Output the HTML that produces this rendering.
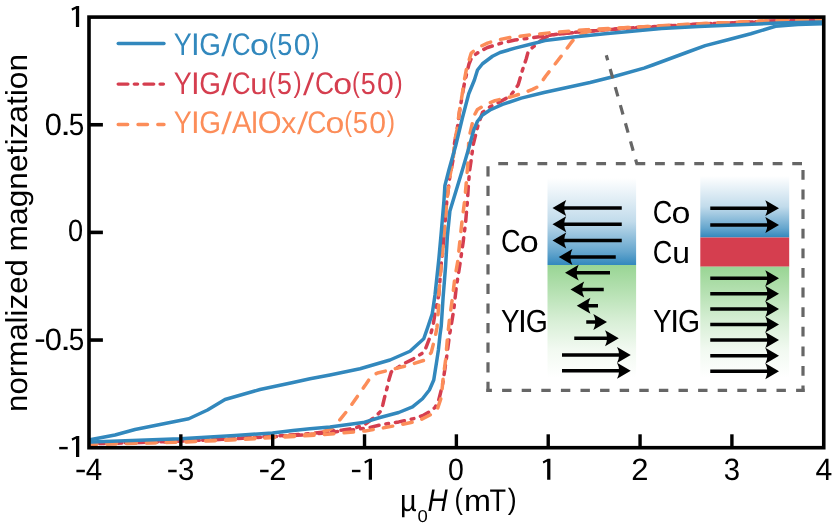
<!DOCTYPE html>
<html><head><meta charset="utf-8"><title>Hysteresis</title>
<style>html,body{margin:0;padding:0;background:#fff;}body{width:832px;height:530px;overflow:hidden;font-family:"Liberation Sans",sans-serif;}svg{display:block;will-change:transform;}</style></head>
<body>
<svg width="832" height="530" viewBox="0 0 832 530">
<defs>
<linearGradient id="gb" x1="0" y1="0" x2="0" y2="1"><stop offset="0" stop-color="#3288bd" stop-opacity="0"/><stop offset="0.5" stop-color="#3288bd" stop-opacity="0.3"/><stop offset="0.85" stop-color="#3288bd" stop-opacity="0.75"/><stop offset="1" stop-color="#3288bd" stop-opacity="1"/></linearGradient>
<linearGradient id="gg" x1="0" y1="0" x2="0" y2="1"><stop offset="0" stop-color="#99d594" stop-opacity="1"/><stop offset="0.25" stop-color="#99d594" stop-opacity="0.70"/><stop offset="0.5" stop-color="#99d594" stop-opacity="0.38"/><stop offset="0.75" stop-color="#99d594" stop-opacity="0.13"/><stop offset="1" stop-color="#99d594" stop-opacity="0"/></linearGradient>
<path id="ah" d="M0,0 L-13.7,-7.9 Q-9.6,0 -13.7,7.9 Z"/>
</defs>
<rect width="832" height="530" fill="#fff"/>
<rect x="547.5" y="178" width="88.6" height="87" fill="url(#gb)"/>
<rect x="547.5" y="265" width="88.6" height="112.5" fill="url(#gg)"/>
<rect x="700.3" y="176" width="88.9" height="61.5" fill="url(#gb)"/>
<rect x="700.3" y="237.5" width="88.9" height="29.2" fill="#d53e4f"/>
<rect x="700.3" y="266.7" width="88.9" height="111" fill="url(#gg)"/>
<line x1="621.75" y1="208" x2="561.5" y2="208" stroke="#000" stroke-width="3.5"/><use href="#ah" transform="translate(552.5,208) scale(-1,1)"/>
<line x1="621.75" y1="224.25" x2="561.5" y2="224.25" stroke="#000" stroke-width="3.5"/><use href="#ah" transform="translate(552.5,224.25) scale(-1,1)"/>
<line x1="621.75" y1="240.5" x2="561.5" y2="240.5" stroke="#000" stroke-width="3.5"/><use href="#ah" transform="translate(552.5,240.5) scale(-1,1)"/>
<line x1="615.75" y1="257" x2="567.75" y2="257" stroke="#000" stroke-width="3.5"/><use href="#ah" transform="translate(558.75,257) scale(-1,1)"/>
<line x1="610" y1="272.7" x2="574" y2="272.7" stroke="#000" stroke-width="3.5"/><use href="#ah" transform="translate(565,272.7) scale(-1,1)"/>
<line x1="603.75" y1="289.5" x2="579.5" y2="289.5" stroke="#000" stroke-width="3.5"/><use href="#ah" transform="translate(570.5,289.5) scale(-1,1)"/>
<line x1="598" y1="305.75" x2="585.75" y2="305.75" stroke="#000" stroke-width="3.5"/><use href="#ah" transform="translate(576.75,305.75) scale(-1,1)"/>
<line x1="586.25" y1="322" x2="598" y2="322" stroke="#000" stroke-width="3.5"/><use href="#ah" transform="translate(607,322)"/>
<line x1="574.25" y1="338.25" x2="609.75" y2="338.25" stroke="#000" stroke-width="3.5"/><use href="#ah" transform="translate(618.75,338.25)"/>
<line x1="562" y1="355" x2="621.75" y2="355" stroke="#000" stroke-width="3.5"/><use href="#ah" transform="translate(630.75,355)"/>
<line x1="562" y1="370.75" x2="621.75" y2="370.75" stroke="#000" stroke-width="3.5"/><use href="#ah" transform="translate(630.75,370.75)"/>
<line x1="710.25" y1="208.2" x2="770" y2="208.2" stroke="#000" stroke-width="3.5"/><use href="#ah" transform="translate(779,208.2)"/>
<line x1="710.25" y1="225" x2="770" y2="225" stroke="#000" stroke-width="3.5"/><use href="#ah" transform="translate(779,225)"/>
<line x1="710.25" y1="278.25" x2="770" y2="278.25" stroke="#000" stroke-width="3.5"/><use href="#ah" transform="translate(779,278.25)"/>
<line x1="710.25" y1="293.75" x2="770" y2="293.75" stroke="#000" stroke-width="3.5"/><use href="#ah" transform="translate(779,293.75)"/>
<line x1="710.25" y1="309" x2="770" y2="309" stroke="#000" stroke-width="3.5"/><use href="#ah" transform="translate(779,309)"/>
<line x1="710.25" y1="324.5" x2="770" y2="324.5" stroke="#000" stroke-width="3.5"/><use href="#ah" transform="translate(779,324.5)"/>
<line x1="710.25" y1="340" x2="770" y2="340" stroke="#000" stroke-width="3.5"/><use href="#ah" transform="translate(779,340)"/>
<line x1="710.25" y1="355.75" x2="770" y2="355.75" stroke="#000" stroke-width="3.5"/><use href="#ah" transform="translate(779,355.75)"/>
<line x1="710.25" y1="371.25" x2="770" y2="371.25" stroke="#000" stroke-width="3.5"/><use href="#ah" transform="translate(779,371.25)"/>
<g stroke="#666666" stroke-width="3.2" fill="none" stroke-dasharray="9.8 9.8">
<line x1="498.25" y1="163.6" x2="802" y2="163.6"/>
<line x1="803" y1="170" x2="803" y2="392"/>
<line x1="804.6" y1="390.4" x2="486.4" y2="390.4" stroke-dasharray="9.4 10.2" stroke-dashoffset="0.9"/>
<line x1="488" y1="392" x2="488" y2="166" stroke-dasharray="10.2 9.4"/>
</g>
<text x="500.88" y="251.50" font-family="Liberation Sans, sans-serif" font-size="31" fill="#000" text-rendering="geometricPrecision" textLength="19.57" lengthAdjust="spacingAndGlyphs"><tspan font-size="31.9">C</tspan></text>
<text x="519.89" y="251.50" font-family="Liberation Sans, sans-serif" font-size="31" fill="#000" text-rendering="geometricPrecision" textLength="18.99" lengthAdjust="spacingAndGlyphs"><tspan font-size="30.3">o</tspan></text>
<text x="652.86" y="223.00" font-family="Liberation Sans, sans-serif" font-size="31" fill="#000" text-rendering="geometricPrecision" textLength="19.52" lengthAdjust="spacingAndGlyphs"><tspan font-size="31.9">C</tspan></text>
<text x="671.50" y="223.00" font-family="Liberation Sans, sans-serif" font-size="31" fill="#000" text-rendering="geometricPrecision" textLength="18.94" lengthAdjust="spacingAndGlyphs"><tspan font-size="30.3">o</tspan></text>
<text x="652.86" y="262.70" font-family="Liberation Sans, sans-serif" font-size="31" fill="#000" text-rendering="geometricPrecision" textLength="19.52" lengthAdjust="spacingAndGlyphs"><tspan font-size="31.9">C</tspan></text>
<text x="672.22" y="262.70" font-family="Liberation Sans, sans-serif" font-size="31" fill="#000" text-rendering="geometricPrecision" textLength="17.74" lengthAdjust="spacingAndGlyphs"><tspan font-size="30.3">u</tspan></text>
<text x="500.89" y="331.90" font-family="Liberation Sans, sans-serif" font-size="31" fill="#000" text-rendering="geometricPrecision" textLength="18.56" lengthAdjust="spacingAndGlyphs"><tspan font-size="31.9">Y</tspan></text>
<text x="518.12" y="331.90" font-family="Liberation Sans, sans-serif" font-size="31" fill="#000" text-rendering="geometricPrecision"><tspan font-size="31.9">I</tspan></text>
<text x="525.82" y="331.90" font-family="Liberation Sans, sans-serif" font-size="31" fill="#000" text-rendering="geometricPrecision" textLength="22.09" lengthAdjust="spacingAndGlyphs"><tspan font-size="31.9">G</tspan></text>
<text x="652.93" y="331.90" font-family="Liberation Sans, sans-serif" font-size="31" fill="#000" text-rendering="geometricPrecision" textLength="18.56" lengthAdjust="spacingAndGlyphs"><tspan font-size="31.9">Y</tspan></text>
<text x="670.24" y="331.90" font-family="Liberation Sans, sans-serif" font-size="31" fill="#000" text-rendering="geometricPrecision"><tspan font-size="31.9">I</tspan></text>
<text x="677.95" y="331.90" font-family="Liberation Sans, sans-serif" font-size="31" fill="#000" text-rendering="geometricPrecision" textLength="22.06" lengthAdjust="spacingAndGlyphs"><tspan font-size="31.9">G</tspan></text>
<clipPath id="cp"><rect x="89" y="17" width="734.75" height="430.7"/></clipPath><g clip-path="url(#cp)">
<polyline points="826.00,19.80 822.00,19.90 778.00,20.80 728.00,23.00 705.00,23.80 667.75,25.80 624.00,28.30 611.00,29.40 580.00,31.90 555.00,34.40 530.00,38.10 515.00,40.00 500.00,43.50 487.50,47.50 480.00,51.25 471.90,56.90 469.00,64.00 466.90,72.50 464.60,82.50 462.70,92.50 459.60,111.25 457.10,130.00 454.60,142.50 453.25,158.75 449.90,176.20 446.80,201.10 444.40,231.25 442.50,253.75 441.25,263.75 438.75,295.00 435.00,313.75 433.10,325.00 430.00,337.00 425.00,350.00 422.50,353.10 412.50,359.40 405.00,363.10 398.75,366.90 391.25,371.90 389.00,379.40 387.50,386.25 384.40,398.10 382.75,405.00 380.60,411.25 376.25,416.00 372.50,418.75 365.00,424.40 355.00,428.10 342.50,430.00 330.00,431.25 310.00,433.75 235.00,438.75 180.00,441.25 91.00,443.75 87.00,443.90" fill="none" stroke="#d53e4f" stroke-width="3.5" stroke-linejoin="round" stroke-linecap="round" stroke-dasharray="9.1 7.0 2.7 7.0"/>
<polyline points="87.00,444.00 91.00,443.75 180.00,441.25 235.00,438.75 310.00,434.50 330.00,432.50 367.50,428.00 380.00,425.00 398.75,421.90 416.25,418.10 423.75,415.00 430.00,411.50 435.00,407.50 438.75,400.00 442.50,385.00 446.25,360.00 449.50,335.00 451.25,325.00 453.75,310.00 456.25,287.50 460.00,263.75 463.10,242.50 465.60,222.50 467.50,200.00 468.25,187.50 469.50,171.25 471.40,158.75 473.10,145.00 476.25,132.50 478.10,125.00 482.50,112.50 490.00,106.90 497.50,103.10 510.00,96.25 513.75,91.25 518.10,85.00 519.60,80.00 522.50,70.00 526.25,58.75 528.10,51.90 532.50,47.50 540.00,41.25 546.00,37.00 555.00,34.40 580.00,31.90 611.00,29.40 624.00,28.30 667.75,25.80 705.00,23.80 728.00,23.00 778.00,20.80 822.00,19.90 826.00,19.80" fill="none" stroke="#d53e4f" stroke-width="3.5" stroke-linejoin="round" stroke-linecap="round" stroke-dasharray="9.1 7.0 2.7 7.0"/>
<polyline points="826.00,19.30 822.00,19.40 778.00,20.40 728.00,22.75 705.25,23.50 667.75,25.40 624.00,27.75 586.25,29.75 552.50,32.50 530.00,35.00 510.00,37.50 497.50,40.00 487.50,43.10 478.75,47.25 471.25,53.10 468.75,61.25 466.25,70.00 464.40,80.00 462.50,92.50 459.40,111.25 456.90,130.00 454.40,142.50 453.25,158.75 449.90,176.20 446.80,201.10 444.40,231.25 442.50,253.75 441.25,263.75 438.75,295.00 438.75,305.00 437.00,327.50 435.00,337.50 431.25,352.50 425.00,360.00 407.50,365.50 390.00,370.00 377.50,373.00 371.25,376.25 365.00,385.60 348.75,408.75 336.25,424.40 330.00,429.40 322.00,432.00 310.00,434.50 235.00,439.30 180.00,441.80 91.00,444.20 87.00,444.30" fill="none" stroke="#fc8d59" stroke-width="3.5" stroke-linejoin="round" stroke-linecap="round" stroke-dasharray="9.5 10.3"/>
<polyline points="87.00,444.60 91.00,444.40 180.00,442.20 235.00,439.80 310.00,435.50 336.25,433.50 365.00,431.00 385.00,427.60 398.75,425.00 417.50,421.25 430.00,415.00 437.50,408.75 441.25,397.50 443.10,378.75 445.60,360.00 447.50,337.50 449.40,320.00 452.50,297.50 454.75,278.75 457.75,261.25 460.00,240.00 461.90,222.50 464.75,200.00 466.40,181.25 468.25,158.75 468.75,138.75 472.50,122.50 473.10,117.50 477.50,109.40 486.25,104.40 495.00,100.60 506.25,98.10 515.00,95.60 525.00,92.50 532.50,89.40 538.75,86.25 540.60,83.60 545.60,76.25 552.50,67.50 564.40,51.90 571.25,42.50 574.40,38.75 582.00,33.50 590.00,31.00 624.00,27.75 667.75,25.40 705.25,23.50 728.00,22.75 778.00,20.40 822.00,19.40 826.00,19.30" fill="none" stroke="#fc8d59" stroke-width="3.5" stroke-linejoin="round" stroke-linecap="round" stroke-dasharray="9.5 10.3"/>
<polyline points="826.00,21.80 822.00,21.90 778.00,23.10 728.00,25.25 699.00,26.50 661.50,28.50 624.00,31.90 605.00,33.75 573.75,36.90 545.00,40.60 532.50,43.75 515.00,48.10 500.00,52.50 492.50,56.25 482.50,63.75 477.50,70.00 474.40,80.00 468.75,93.75 462.50,117.50 455.60,146.00 448.90,170.00 444.90,185.60 444.00,200.00 441.25,232.50 438.75,260.00 435.00,295.00 432.25,313.75 427.50,328.00 423.75,338.75 410.00,351.25 390.00,360.00 360.00,368.75 330.00,375.00 310.00,378.75 293.00,382.50 260.00,389.50 225.00,399.50 207.50,410.00 188.75,418.75 135.00,429.50 115.00,435.00 91.25,439.50 87.00,440.30" fill="none" stroke="#3288bd" stroke-width="3.5" stroke-linejoin="round" stroke-linecap="round"/>
<polyline points="87.00,442.20 91.25,442.00 180.00,438.75 235.00,435.50 272.50,433.00 293.00,430.50 310.00,428.75 330.00,426.90 363.10,422.60 380.00,417.50 398.75,412.50 412.50,406.90 422.50,398.75 429.40,390.00 433.75,380.00 436.90,360.00 438.40,350.00 440.00,335.00 441.25,326.00 443.10,297.50 445.60,266.00 447.40,236.00 449.90,211.00 462.40,170.00 469.40,146.00 473.75,130.00 477.50,121.25 482.50,115.00 490.00,110.00 502.50,104.40 521.25,98.10 544.00,92.50 590.00,82.50 615.00,76.25 644.00,68.10 652.75,65.00 686.50,52.50 705.25,45.60 728.00,39.75 750.80,33.70 775.50,26.25 798.00,24.40 822.00,23.75 826.00,23.70" fill="none" stroke="#3288bd" stroke-width="3.5" stroke-linejoin="round" stroke-linecap="round"/>
</g>
<line x1="636.8" y1="163.6" x2="606.3" y2="55.2" stroke="#666666" stroke-width="3.2" stroke-dasharray="4.3 9.1 9.7 9.1 9.7 9.1 9.7 9.1 9.7 9.1 9.7 9.1 9.7"/>
<rect x="89.0" y="17.1" width="734.75" height="430.59999999999997" fill="none" stroke="#000" stroke-width="3.6"/>
<line x1="180.84" y1="447.7" x2="180.84" y2="434.3" stroke="#000" stroke-width="3.4"/>
<line x1="272.69" y1="447.7" x2="272.69" y2="434.3" stroke="#000" stroke-width="3.4"/>
<line x1="364.53" y1="447.7" x2="364.53" y2="434.3" stroke="#000" stroke-width="3.4"/>
<line x1="456.38" y1="447.7" x2="456.38" y2="434.3" stroke="#000" stroke-width="3.4"/>
<line x1="548.22" y1="447.7" x2="548.22" y2="434.3" stroke="#000" stroke-width="3.4"/>
<line x1="640.06" y1="447.7" x2="640.06" y2="434.3" stroke="#000" stroke-width="3.4"/>
<line x1="731.91" y1="447.7" x2="731.91" y2="434.3" stroke="#000" stroke-width="3.4"/>
<line x1="89.0" y1="124.75" x2="102.9" y2="124.75" stroke="#000" stroke-width="3.6"/>
<line x1="89.0" y1="232.40" x2="102.9" y2="232.40" stroke="#000" stroke-width="3.6"/>
<line x1="89.0" y1="340.05" x2="102.9" y2="340.05" stroke="#000" stroke-width="3.6"/>
<text x="85.81" y="479.80" font-family="Liberation Sans, sans-serif" font-size="31" fill="#000" text-rendering="geometricPrecision" textLength="16.45" lengthAdjust="spacingAndGlyphs"><tspan font-size="30.9">4</tspan></text>
<rect x="76.4" y="469.75" width="8.45" height="2.5" fill="#000"/>
<text x="177.95" y="479.80" font-family="Liberation Sans, sans-serif" font-size="31" fill="#000" text-rendering="geometricPrecision" textLength="16.29" lengthAdjust="spacingAndGlyphs"><tspan font-size="30.9">3</tspan></text>
<rect x="168.2" y="469.75" width="8.45" height="2.5" fill="#000"/>
<text x="269.24" y="479.80" font-family="Liberation Sans, sans-serif" font-size="31" fill="#000" text-rendering="geometricPrecision" textLength="17.24" lengthAdjust="spacingAndGlyphs"><tspan font-size="30.9">2</tspan></text>
<rect x="260.1" y="469.75" width="8.45" height="2.5" fill="#000"/>
<text x="447.94" y="479.80" font-family="Liberation Sans, sans-serif" font-size="31" fill="#000" text-rendering="geometricPrecision" textLength="15.84" lengthAdjust="spacingAndGlyphs"><tspan font-size="30.9">0</tspan></text>
<text x="631.35" y="479.80" font-family="Liberation Sans, sans-serif" font-size="31" fill="#000" text-rendering="geometricPrecision" textLength="17.23" lengthAdjust="spacingAndGlyphs"><tspan font-size="30.9">2</tspan></text>
<text x="723.82" y="479.80" font-family="Liberation Sans, sans-serif" font-size="31" fill="#000" text-rendering="geometricPrecision" textLength="16.29" lengthAdjust="spacingAndGlyphs"><tspan font-size="30.9">3</tspan></text>
<text x="815.40" y="479.80" font-family="Liberation Sans, sans-serif" font-size="31" fill="#000" text-rendering="geometricPrecision" textLength="16.80" lengthAdjust="spacingAndGlyphs"><tspan font-size="30.9">4</tspan></text>
<text x="44.87" y="134.90" font-family="Liberation Sans, sans-serif" font-size="31" fill="#000" text-rendering="geometricPrecision" textLength="17.11" lengthAdjust="spacingAndGlyphs"><tspan font-size="30.9">0</tspan></text>
<text x="60.14" y="134.90" font-family="Liberation Sans, sans-serif" font-size="31" fill="#000" text-rendering="geometricPrecision" textLength="11.17" lengthAdjust="spacingAndGlyphs"><tspan font-size="30.9">.</tspan></text>
<text x="68.72" y="134.90" font-family="Liberation Sans, sans-serif" font-size="31" fill="#000" text-rendering="geometricPrecision" textLength="15.51" lengthAdjust="spacingAndGlyphs"><tspan font-size="30.9">5</tspan></text>
<text x="44.87" y="349.90" font-family="Liberation Sans, sans-serif" font-size="31" fill="#000" text-rendering="geometricPrecision" textLength="17.11" lengthAdjust="spacingAndGlyphs"><tspan font-size="30.9">0</tspan></text>
<text x="60.14" y="349.90" font-family="Liberation Sans, sans-serif" font-size="31" fill="#000" text-rendering="geometricPrecision" textLength="11.17" lengthAdjust="spacingAndGlyphs"><tspan font-size="30.9">.</tspan></text>
<text x="68.72" y="349.90" font-family="Liberation Sans, sans-serif" font-size="31" fill="#000" text-rendering="geometricPrecision" textLength="15.51" lengthAdjust="spacingAndGlyphs"><tspan font-size="30.9">5</tspan></text>
<rect x="35.75" y="339.4" width="8.45" height="2.5" fill="#000"/>
<text x="68.10" y="241.40" font-family="Liberation Sans, sans-serif" font-size="31" fill="#000" text-rendering="geometricPrecision" textLength="15.11" lengthAdjust="spacingAndGlyphs"><tspan font-size="30.9">0</tspan></text>
<path d="M372,458.8 L372,479.8 L368.75,479.8 L368.75,461.6 L365.1,463.6 L364.3,461.40000000000003 L369.4,458.8 Z" fill="#000"/><rect x="351.95" y="469.80" width="8.5" height="2.4" fill="#000"/>
<path d="M550.4,458.8 L550.4,479.8 L547.15,479.8 L547.15,461.6 L543.5,463.6 L542.6999999999999,461.40000000000003 L547.8,458.8 Z" fill="#000"/>
<path d="M79.15,5.899999999999999 L79.15,26.9 L75.9,26.9 L75.9,8.7 L72.25,10.7 L71.45,8.499999999999998 L76.55000000000001,5.899999999999999 Z" fill="#000"/>
<path d="M79.25,435.9 L79.25,456.9 L76.0,456.9 L76.0,438.7 L72.35,440.7 L71.55,438.5 L76.65,435.9 Z" fill="#000"/><rect x="59.20" y="446.90" width="8.5" height="2.4" fill="#000"/>
<text x="399.98" y="510.50" font-family="Liberation Sans, sans-serif" font-size="31" fill="#000" text-rendering="geometricPrecision" textLength="16.68" lengthAdjust="spacingAndGlyphs"><tspan font-size="30.3">µ</tspan></text>
<text x="417.47" y="521.50" font-family="Liberation Sans, sans-serif" font-size="31" fill="#000" text-rendering="geometricPrecision" textLength="10.31" lengthAdjust="spacingAndGlyphs"><tspan font-size="17.3">0</tspan></text>
<text x="427.39" y="510.50" font-family="Liberation Sans, sans-serif" font-size="31" fill="#000" text-rendering="geometricPrecision" textLength="20.22" lengthAdjust="spacingAndGlyphs"><tspan font-size="31.4" font-style="italic">H</tspan></text>
<text x="454.47" y="508.60" font-family="Liberation Sans, sans-serif" font-size="31" fill="#000" text-rendering="geometricPrecision" textLength="8.40" lengthAdjust="spacingAndGlyphs"><tspan font-size="29.4">(</tspan></text>
<text x="464.01" y="510.50" font-family="Liberation Sans, sans-serif" font-size="31" fill="#000" text-rendering="geometricPrecision" textLength="26.97" lengthAdjust="spacingAndGlyphs"><tspan font-size="30.3">m</tspan></text>
<text x="489.61" y="510.50" font-family="Liberation Sans, sans-serif" font-size="31" fill="#000" text-rendering="geometricPrecision" textLength="16.58" lengthAdjust="spacingAndGlyphs"><tspan font-size="31.4">T</tspan></text>
<text x="507.82" y="508.60" font-family="Liberation Sans, sans-serif" font-size="31" fill="#000" text-rendering="geometricPrecision" textLength="8.90" lengthAdjust="spacingAndGlyphs"><tspan font-size="29.4">)</tspan></text>
<text transform="translate(27.3,411.96) rotate(-90)" font-family="Liberation Sans, sans-serif" font-size="30.3" fill="#000" text-rendering="geometricPrecision" textLength="152.85" lengthAdjust="spacingAndGlyphs">normalized</text>
<text transform="translate(27.3,251.47) rotate(-90)" font-family="Liberation Sans, sans-serif" font-size="30.3" fill="#000" text-rendering="geometricPrecision" textLength="197.64" lengthAdjust="spacingAndGlyphs">magnetization</text>
<line x1="118.2" y1="43.5" x2="164" y2="43.5" stroke="#3288bd" stroke-width="3.4" stroke-linecap="round"/>
<line x1="118.2" y1="84.1" x2="164" y2="84.1" stroke="#d53e4f" stroke-width="3.4" stroke-linecap="round" stroke-dasharray="9.7 6.4 3.3 6.4"/>
<line x1="118.2" y1="124.5" x2="164" y2="124.5" stroke="#fc8d59" stroke-width="3.4" stroke-linecap="round" stroke-dasharray="9.5 10.3"/>
<text x="173.78" y="55.20" font-family="Liberation Sans, sans-serif" font-size="31" fill="#3288bd" text-rendering="geometricPrecision" textLength="18.01" lengthAdjust="spacingAndGlyphs"><tspan font-size="31.3">Y</tspan></text>
<text x="190.96" y="55.20" font-family="Liberation Sans, sans-serif" font-size="31" fill="#3288bd" text-rendering="geometricPrecision"><tspan font-size="31.3">I</tspan></text>
<text x="199.21" y="55.20" font-family="Liberation Sans, sans-serif" font-size="31" fill="#3288bd" text-rendering="geometricPrecision" textLength="21.70" lengthAdjust="spacingAndGlyphs"><tspan font-size="31.3">G</tspan></text>
<text x="231.75" y="55.20" font-family="Liberation Sans, sans-serif" font-size="31" fill="#3288bd" text-rendering="geometricPrecision" textLength="18.80" lengthAdjust="spacingAndGlyphs"><tspan font-size="31.3">C</tspan></text>
<text x="250.08" y="55.20" font-family="Liberation Sans, sans-serif" font-size="31" fill="#3288bd" text-rendering="geometricPrecision" textLength="18.83" lengthAdjust="spacingAndGlyphs"><tspan font-size="29.8">o</tspan></text>
<text x="268.82" y="53.10" font-family="Liberation Sans, sans-serif" font-size="31" fill="#3288bd" text-rendering="geometricPrecision" textLength="7.79" lengthAdjust="spacingAndGlyphs"><tspan font-size="28.4">(</tspan></text>
<text x="277.28" y="55.20" font-family="Liberation Sans, sans-serif" font-size="31" fill="#3288bd" text-rendering="geometricPrecision" textLength="15.03" lengthAdjust="spacingAndGlyphs"><tspan font-size="30.5">5</tspan></text>
<text x="293.70" y="55.20" font-family="Liberation Sans, sans-serif" font-size="31" fill="#3288bd" text-rendering="geometricPrecision" textLength="16.77" lengthAdjust="spacingAndGlyphs"><tspan font-size="30.5">0</tspan></text>
<text x="311.25" y="53.10" font-family="Liberation Sans, sans-serif" font-size="31" fill="#3288bd" text-rendering="geometricPrecision" textLength="8.34" lengthAdjust="spacingAndGlyphs"><tspan font-size="28.4">)</tspan></text>
<polygon points="221.25,56.2 224.0,56.2 231.9,33.3 229.15,33.3" fill="#3288bd"/>
<text x="173.78" y="94.30" font-family="Liberation Sans, sans-serif" font-size="31" fill="#d53e4f" text-rendering="geometricPrecision" textLength="18.01" lengthAdjust="spacingAndGlyphs"><tspan font-size="31.3">Y</tspan></text>
<text x="190.96" y="94.30" font-family="Liberation Sans, sans-serif" font-size="31" fill="#d53e4f" text-rendering="geometricPrecision"><tspan font-size="31.3">I</tspan></text>
<text x="199.21" y="94.30" font-family="Liberation Sans, sans-serif" font-size="31" fill="#d53e4f" text-rendering="geometricPrecision" textLength="21.70" lengthAdjust="spacingAndGlyphs"><tspan font-size="31.3">G</tspan></text>
<text x="231.75" y="94.30" font-family="Liberation Sans, sans-serif" font-size="31" fill="#d53e4f" text-rendering="geometricPrecision" textLength="18.80" lengthAdjust="spacingAndGlyphs"><tspan font-size="31.3">C</tspan></text>
<text x="250.28" y="94.30" font-family="Liberation Sans, sans-serif" font-size="31" fill="#d53e4f" text-rendering="geometricPrecision" textLength="17.25" lengthAdjust="spacingAndGlyphs"><tspan font-size="29.8">u</tspan></text>
<text x="267.78" y="92.20" font-family="Liberation Sans, sans-serif" font-size="31" fill="#d53e4f" text-rendering="geometricPrecision" textLength="8.03" lengthAdjust="spacingAndGlyphs"><tspan font-size="28.4">(</tspan></text>
<text x="276.88" y="94.30" font-family="Liberation Sans, sans-serif" font-size="31" fill="#d53e4f" text-rendering="geometricPrecision" textLength="14.88" lengthAdjust="spacingAndGlyphs"><tspan font-size="30.5">5</tspan></text>
<text x="293.58" y="92.20" font-family="Liberation Sans, sans-serif" font-size="31" fill="#d53e4f" text-rendering="geometricPrecision" textLength="8.23" lengthAdjust="spacingAndGlyphs"><tspan font-size="28.4">)</tspan></text>
<text x="314.98" y="94.30" font-family="Liberation Sans, sans-serif" font-size="31" fill="#d53e4f" text-rendering="geometricPrecision" textLength="19.05" lengthAdjust="spacingAndGlyphs"><tspan font-size="31.3">C</tspan></text>
<text x="333.32" y="94.30" font-family="Liberation Sans, sans-serif" font-size="31" fill="#d53e4f" text-rendering="geometricPrecision" textLength="18.84" lengthAdjust="spacingAndGlyphs"><tspan font-size="29.8">o</tspan></text>
<text x="352.07" y="92.20" font-family="Liberation Sans, sans-serif" font-size="31" fill="#d53e4f" text-rendering="geometricPrecision" textLength="7.81" lengthAdjust="spacingAndGlyphs"><tspan font-size="28.4">(</tspan></text>
<text x="360.65" y="94.30" font-family="Liberation Sans, sans-serif" font-size="31" fill="#d53e4f" text-rendering="geometricPrecision" textLength="14.93" lengthAdjust="spacingAndGlyphs"><tspan font-size="30.5">5</tspan></text>
<text x="376.94" y="94.30" font-family="Liberation Sans, sans-serif" font-size="31" fill="#d53e4f" text-rendering="geometricPrecision" textLength="16.80" lengthAdjust="spacingAndGlyphs"><tspan font-size="30.5">0</tspan></text>
<text x="394.58" y="92.20" font-family="Liberation Sans, sans-serif" font-size="31" fill="#d53e4f" text-rendering="geometricPrecision" textLength="8.23" lengthAdjust="spacingAndGlyphs"><tspan font-size="28.4">)</tspan></text>
<polygon points="221.25,95.3 224.0,95.3 231.9,72.4 229.15,72.4" fill="#d53e4f"/>
<polygon points="303.0,95.3 305.75,95.3 314.25,72.4 311.5,72.4" fill="#d53e4f"/>
<text x="173.78" y="133.30" font-family="Liberation Sans, sans-serif" font-size="31" fill="#fc8d59" text-rendering="geometricPrecision" textLength="18.01" lengthAdjust="spacingAndGlyphs"><tspan font-size="31.3">Y</tspan></text>
<text x="190.96" y="133.30" font-family="Liberation Sans, sans-serif" font-size="31" fill="#fc8d59" text-rendering="geometricPrecision"><tspan font-size="31.3">I</tspan></text>
<text x="199.21" y="133.30" font-family="Liberation Sans, sans-serif" font-size="31" fill="#fc8d59" text-rendering="geometricPrecision" textLength="21.70" lengthAdjust="spacingAndGlyphs"><tspan font-size="31.3">G</tspan></text>
<text x="231.95" y="133.30" font-family="Liberation Sans, sans-serif" font-size="31" fill="#fc8d59" text-rendering="geometricPrecision" textLength="19.69" lengthAdjust="spacingAndGlyphs"><tspan font-size="31.3">A</tspan></text>
<text x="251.21" y="133.30" font-family="Liberation Sans, sans-serif" font-size="31" fill="#fc8d59" text-rendering="geometricPrecision"><tspan font-size="29.8">l</tspan></text>
<text x="257.79" y="133.30" font-family="Liberation Sans, sans-serif" font-size="31" fill="#fc8d59" text-rendering="geometricPrecision" textLength="23.85" lengthAdjust="spacingAndGlyphs"><tspan font-size="31.3">O</tspan></text>
<text x="281.37" y="133.30" font-family="Liberation Sans, sans-serif" font-size="31" fill="#fc8d59" text-rendering="geometricPrecision" textLength="15.10" lengthAdjust="spacingAndGlyphs"><tspan font-size="29.8">x</tspan></text>
<text x="307.23" y="133.30" font-family="Liberation Sans, sans-serif" font-size="31" fill="#fc8d59" text-rendering="geometricPrecision" textLength="19.09" lengthAdjust="spacingAndGlyphs"><tspan font-size="31.3">C</tspan></text>
<text x="325.58" y="133.30" font-family="Liberation Sans, sans-serif" font-size="31" fill="#fc8d59" text-rendering="geometricPrecision" textLength="18.84" lengthAdjust="spacingAndGlyphs"><tspan font-size="29.8">o</tspan></text>
<text x="344.36" y="131.20" font-family="Liberation Sans, sans-serif" font-size="31" fill="#fc8d59" text-rendering="geometricPrecision" textLength="7.80" lengthAdjust="spacingAndGlyphs"><tspan font-size="28.4">(</tspan></text>
<text x="352.68" y="133.30" font-family="Liberation Sans, sans-serif" font-size="31" fill="#fc8d59" text-rendering="geometricPrecision" textLength="15.19" lengthAdjust="spacingAndGlyphs"><tspan font-size="30.5">5</tspan></text>
<text x="369.19" y="133.30" font-family="Liberation Sans, sans-serif" font-size="31" fill="#fc8d59" text-rendering="geometricPrecision" textLength="16.81" lengthAdjust="spacingAndGlyphs"><tspan font-size="30.5">0</tspan></text>
<text x="386.76" y="131.20" font-family="Liberation Sans, sans-serif" font-size="31" fill="#fc8d59" text-rendering="geometricPrecision" textLength="8.35" lengthAdjust="spacingAndGlyphs"><tspan font-size="28.4">)</tspan></text>
<polygon points="221.25,134.3 224.0,134.3 231.9,111.4 229.15,111.4" fill="#fc8d59"/>
<polygon points="297.0,134.3 299.75,134.3 308.25,111.4 305.5,111.4" fill="#fc8d59"/>
</svg>
</body></html>
